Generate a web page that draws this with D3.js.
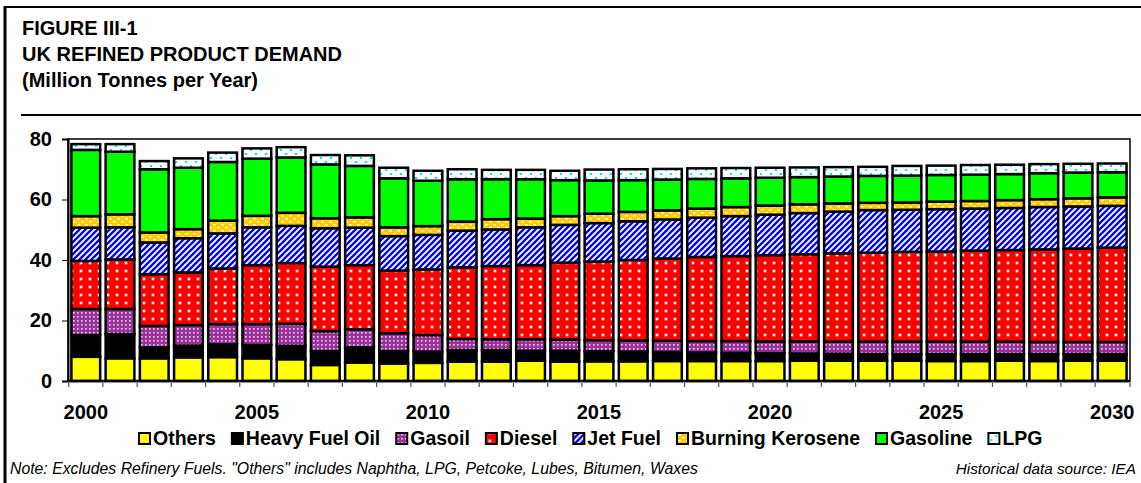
<!DOCTYPE html>
<html>
<head>
<meta charset="utf-8">
<script src="https://cdn.jsdelivr.net/npm/d3@7"></script>
<style>
  body { margin: 0; background: #fff; }
  text { font-family: Arial, "Liberation Sans", sans-serif; }
</style>
</head>
<body>
<svg id="grafico"></svg>
<script>
const anos = ['2000', '2001', '2002', '2003', '2004', '2005', '2006', '2007', '2008', '2009', '2010',
    '2011', '2012', '2013', '2014', '2015', '2016', '2017', '2018', '2019', '2020',
    '2021', '2022', '2023', '2024', '2025', '2026', '2027', '2028', '2029', '2030'];

// Million tonnes per year
const outros = [8.0, 7.5, 7.5, 7.8, 7.9, 7.5, 7.2, 5.3, 6.1, 5.8, 6.0, 6.4, 6.4, 6.7, 6.4, 6.5,
    6.5, 6.6, 6.6, 6.6, 6.6, 6.7, 6.7, 6.7, 6.7, 6.6, 6.6, 6.7, 6.6, 6.7, 6.7];
const oleoCombustivel = [7.2, 8.0, 3.6, 3.9, 4.2, 4.4, 4.4, 4.6, 5.0, 4.1, 3.7, 3.8, 3.8, 3.3, 3.6, 3.3,
    3.2, 3.0, 2.8, 2.7, 2.6, 2.4, 2.3, 2.2, 2.2, 2.3, 2.3, 2.2, 2.3, 2.2, 2.2];
const gasoleo = [8.6, 8.3, 7.1, 6.8, 6.7, 6.9, 7.3, 6.6, 6.0, 5.9, 5.5, 3.7, 3.6, 3.8, 3.7, 3.7,
    3.7, 3.7, 3.8, 3.9, 3.9, 4.0, 4.0, 4.1, 4.1, 4.1, 4.1, 4.1, 4.0, 4.0, 4.0];
const diesel = [15.9, 16.4, 17.1, 17.4, 18.4, 19.5, 20.1, 21.3, 21.2, 20.7, 21.7, 23.7, 24.2, 24.5, 25.4, 26.0,
    26.6, 27.2, 27.8, 28.1, 28.5, 28.8, 29.2, 29.4, 29.7, 29.8, 30.1, 30.3, 30.6, 30.9, 31.2];
const querosAviacao = [11.0, 10.6, 10.5, 11.3, 11.6, 12.5, 12.3, 12.7, 12.4, 11.4, 11.4, 12.1, 12.1, 12.5, 12.5, 12.7,
    12.8, 12.9, 13.0, 13.2, 13.4, 13.6, 13.8, 14.1, 13.9, 14.0, 13.9, 13.9, 14.0, 13.9, 13.8];
const querosene = [3.8, 4.3, 3.3, 3.0, 4.2, 3.8, 4.3, 3.3, 3.4, 2.9, 2.9, 3.0, 3.4, 2.9, 2.9, 3.1,
    3.1, 3.0, 3.0, 3.0, 3.0, 2.9, 2.7, 2.4, 2.4, 2.5, 2.5, 2.6, 2.6, 2.7, 2.8];
const gasolina = [21.9, 20.7, 20.9, 20.3, 19.4, 18.9, 18.3, 17.8, 17.0, 16.2, 15.0, 14.0, 13.2, 13.0, 11.9, 11.0,
    10.5, 10.2, 9.8, 9.5, 9.2, 9.0, 8.9, 8.9, 8.9, 8.8, 8.7, 8.6, 8.6, 8.5, 8.3];
const glp = [1.9, 2.5, 2.7, 3.1, 3.1, 3.4, 3.4, 3.1, 3.5, 3.5, 3.3, 3.3, 3.1, 3.1, 3.1, 3.6,
    3.6, 3.5, 3.5, 3.4, 3.3, 3.2, 3.1, 3.0, 3.2, 3.1, 3.2, 3.1, 3.0, 2.9, 2.9];

const ticksY = [0, 20, 40, 60, 80];
const rotulosX = ['2000', '2005', '2010', '2015', '2020', '2025', '2030'];
const nomesSeries = ['Others', 'Heavy Fuel Oil', 'Gasoil', 'Diesel', 'Jet Fuel', 'Burning Kerosene', 'Gasoline', 'LPG'];

const largura = 1141, altura = 483;
const margem = { esquerda: 68, direita: 11, superior: 139, inferior: 102 };
const larguraPlotagem = largura - margem.esquerda - margem.direita;
const alturaPlotagem = altura - margem.superior - margem.inferior;

const svg = d3.select('#grafico').attr('width', largura).attr('height', altura);

// padroes de preenchimento (estilo Excel)
const defs = svg.append('defs');
function padrao(id, w, h, fundo) {
    let p = defs.append('pattern').attr('id', id).attr('patternUnits', 'userSpaceOnUse')
        .attr('width', w).attr('height', h);
    p.append('rect').attr('width', w).attr('height', h).attr('fill', fundo);
    return p;
}
let pGasoleo = padrao('p-gasoleo', 4, 4, '#993399');
pGasoleo.append('rect').attr('x', 1).attr('y', 1).attr('width', 1.6).attr('height', 1.6).attr('fill', '#f3d0f3');

let pDiesel = padrao('p-diesel', 9, 8, '#ff0000');
pDiesel.append('rect').attr('x', 2.5).attr('y', 2.5).attr('width', 3).attr('height', 3).attr('fill', '#ff9090');
pDiesel.append('rect').attr('x', 3).attr('y', 3).attr('width', 2).attr('height', 2).attr('fill', '#ffffff');

let pJet = padrao('p-jet', 6, 6, '#ffffff');
pJet.append('path').attr('d', 'M-1,1 L1,-1 M0,6 L6,0 M5,7 L7,5')
    .attr('stroke', '#0000ff').attr('stroke-width', 2.3);

let pQuerosene = padrao('p-querosene', 8, 6, '#ffcc00');
pQuerosene.append('rect').attr('x', 1).attr('y', 1).attr('width', 3).attr('height', 1.5).attr('fill', '#fff6d0');
pQuerosene.append('rect').attr('x', 5).attr('y', 4).attr('width', 3).attr('height', 1.5).attr('fill', '#fff6d0');

let pGlp = padrao('p-glp', 10, 8, '#ffffff');
pGlp.append('rect').attr('x', 2).attr('y', 2).attr('width', 2).attr('height', 2).attr('fill', '#00e5ff');
pGlp.append('rect').attr('x', 7).attr('y', 6).attr('width', 2).attr('height', 2).attr('fill', '#00e5ff');

const preenchimentos = ['#ffff00', '#000000', 'url(#p-gasoleo)', 'url(#p-diesel)', 'url(#p-jet)',
    'url(#p-querosene)', '#00ff00', 'url(#p-glp)'];

const dados = anos.map((a, i) => ({
    ano: a,
    'Others': outros[i],
    'Heavy Fuel Oil': oleoCombustivel[i],
    'Gasoil': gasoleo[i],
    'Diesel': diesel[i],
    'Jet Fuel': querosAviacao[i],
    'Burning Kerosene': querosene[i],
    'Gasoline': gasolina[i],
    'LPG': glp[i]
}));
const pilhas = d3.stack().keys(nomesSeries)(dados);

// moldura da figura
svg.append('line').attr('x1', 5).attr('x2', 5).attr('y1', 6).attr('y2', altura)
    .attr('stroke', '#000').attr('stroke-width', 3);
svg.append('line').attr('x1', 4).attr('x2', largura).attr('y1', 7).attr('y2', 7)
    .attr('stroke', '#000').attr('stroke-width', 2);
svg.append('line').attr('x1', 21).attr('x2', largura).attr('y1', 115).attr('y2', 115)
    .attr('stroke', '#000').attr('stroke-width', 2);

const titulos = ['FIGURE III-1', 'UK REFINED PRODUCT DEMAND', '(Million Tonnes per Year)'];
svg.selectAll('.titulo').data(titulos).enter().append('text')
    .attr('x', 22).attr('y', (d, i) => 35 + i * 26)
    .style('font-size', '20px').style('font-weight', 'bold')
    .text((d) => d);

const plotagem = svg.append('g')
    .attr('transform', 'translate(' + margem.esquerda + ',' + margem.superior + ')');

const fnX = d3.scaleBand().domain(anos).range([0, larguraPlotagem]).paddingInner(0.16).paddingOuter(0.1);
const fnY = d3.scaleLinear().domain([0, 80]).range([alturaPlotagem, 0]);

// caixa da area de plotagem
plotagem.append('rect').attr('width', larguraPlotagem).attr('height', alturaPlotagem)
    .attr('fill', 'none').attr('stroke', '#000').attr('stroke-width', 1.5);

// barras empilhadas
plotagem.selectAll('.serie').data(pilhas).enter().append('g')
    .classed('serie', true)
    .attr('fill', (d, i) => preenchimentos[i])
    .selectAll('rect').data((d) => d).enter().append('rect')
    .attr('x', (d) => fnX(d.data.ano))
    .attr('y', (d) => fnY(d[1]))
    .attr('width', fnX.bandwidth())
    .attr('height', (d) => fnY(d[0]) - fnY(d[1]))
    .attr('stroke', '#000').attr('stroke-width', 2.5);

// eixo Y
const eixoY = d3.axisLeft(fnY).tickValues(ticksY).tickSize(6).tickPadding(10);
const gY = plotagem.append('g').call(eixoY);
gY.select('.domain').attr('stroke-width', 2);
gY.selectAll('text').style('font-size', '20px').style('font-weight', 'bold').attr('fill', '#000')
    .style('font-family', 'Arial, "Liberation Sans", sans-serif');

// eixo X: marcas nos limites das categorias
const gX = plotagem.append('g').attr('transform', 'translate(0,' + alturaPlotagem + ')');
gX.append('line').attr('x1', 0).attr('x2', larguraPlotagem).attr('stroke', '#000').attr('stroke-width', 2.5);
gX.selectAll('.marca').data(anos.concat(['fim'])).enter().append('line')
    .attr('x1', (d, i) => i < anos.length ? fnX(d) - fnX.step() * fnX.paddingInner() / 2 : larguraPlotagem)
    .attr('x2', (d, i) => i < anos.length ? fnX(d) - fnX.step() * fnX.paddingInner() / 2 : larguraPlotagem)
    .attr('y1', 0).attr('y2', 6)
    .attr('stroke', '#555').attr('stroke-width', 1.2);
gX.select('.marca').attr('x1', 0).attr('x2', 0);
gX.selectAll('.rotulo').data(rotulosX).enter().append('text')
    .attr('x', (d) => fnX(d) + fnX.bandwidth() / 2)
    .attr('y', 38)
    .style('text-anchor', 'middle').style('font-size', '20px').style('font-weight', 'bold')
    .text((d) => d);

// legenda
const legenda = svg.append('g').attr('transform', 'translate(139,445)');
let posX = 0;
nomesSeries.forEach((nome, i) => {
    let item = legenda.append('g').attr('transform', 'translate(' + posX + ',0)');
    item.append('rect').attr('x', 0).attr('y', -12).attr('width', 11).attr('height', 11)
        .attr('fill', preenchimentos[i]).attr('stroke', '#000').attr('stroke-width', 2);
    let t = item.append('text').attr('x', 14).attr('y', 0)
        .style('font-size', '19.5px').style('font-weight', 'bold').text(nome);
    posX += 14 + t.node().getComputedTextLength() + 16;
});

// notas
svg.append('text').attr('x', 10).attr('y', 474)
    .style('font-size', '15.8px').style('font-style', 'italic')
    .text('Note: Excludes Refinery Fuels. "Others" includes Naphtha, LPG, Petcoke, Lubes, Bitumen, Waxes');
svg.append('text').attr('x', 1136).attr('y', 474)
    .style('font-size', '15.3px').style('font-style', 'italic').style('text-anchor', 'end')
    .text('Historical data source: IEA');
</script>
</body>
</html>
